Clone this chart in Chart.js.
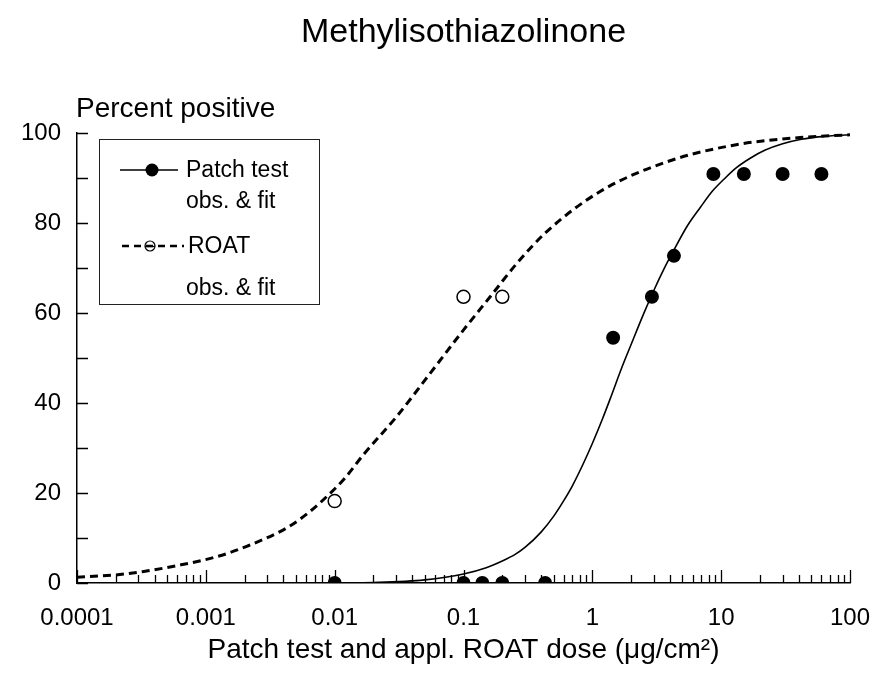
<!DOCTYPE html>
<html>
<head>
<meta charset="utf-8">
<script src="https://cdn.jsdelivr.net/npm/chart.js@4/dist/chart.umd.min.js"></script>
<style>
  html, body { margin: 0; padding: 0; background: #fff; }
  #wrap { width: 874px; height: 679px; }
</style>
</head>
<body>
<div id="wrap"><canvas id="c" width="874" height="679"></canvas></div>
<script>
// ---- Data ----
const chartTitle = "Methylisothiazolinone";
const yAxisTitle = "Percent positive";
const xAxisTitle = "Patch test and appl. ROAT dose (\u03BCg/cm\u00B2)";

const xTickValues = [0.0001, 0.001, 0.01, 0.1, 1, 10, 100];
const xTickLabels = ["0.0001", "0.001", "0.01", "0.1", "1", "10", "100"];
const yTickValues = [0, 20, 40, 60, 80, 100];
const yTickLabels = ["0", "20", "40", "60", "80", "100"];

// Patch test observations (filled circles)
const patchDose = [0.01, 0.1, 0.14, 0.2, 0.43, 1.45, 2.9, 4.3, 8.7, 15, 30, 60];
const patchPct  = [0, 0, 0, 0, 0, 54.5, 63.6, 72.7, 90.9, 90.9, 90.9, 90.9];

// ROAT observations (open circles)
const roatDose = [0.01, 0.1, 0.2];
const roatPct  = [18.2, 63.6, 63.6];

// Patch test fitted curve (solid line)
const patchFitDose = [0.01, 0.02, 0.05, 0.1, 0.15, 0.2, 0.25, 0.3, 0.4, 0.5, 0.6, 0.7, 0.85, 1.0, 1.2, 1.4, 1.7, 2.0, 2.5, 3.0, 3.6, 4.3, 5.5, 6.9, 8.5, 10.4, 13, 16.8, 22, 30, 42, 60, 100];
const patchFitPct  = [0, 0.1, 0.7, 2.0, 3.4, 4.9, 6.3, 7.9, 11.3, 14.8, 18.3, 21.6, 26.5, 31.0, 36.5, 41.5, 48.0, 53.0, 59.8, 65.0, 69.8, 74.0, 79.5, 83.5, 87.0, 89.6, 92.2, 94.4, 96.2, 97.6, 98.6, 99.2, 99.6];

// ROAT fitted curve (dashed line)
const roatFitDose = [0.0001, 0.0002, 0.00032, 0.00058, 0.0012, 0.0021, 0.0044, 0.0065, 0.0089, 0.012, 0.0167, 0.0303, 0.0551, 0.0998, 0.161, 0.259, 0.443, 1.15, 3.79, 12.5, 41, 100];
const roatFitPct  = [1.3, 1.8, 2.5, 3.8, 5.8, 8.2, 12.5, 16.0, 19.5, 23.3, 28.5, 37.0, 46.6, 56.2, 63.6, 71.0, 78.1, 87.0, 93.6, 97.3, 99.0, 99.6];

const legendLabels = [["Patch test", "obs. & fit"], ["ROAT", "obs. & fit"]];

// ---- helpers ----
const pts = (xs, ys) => xs.map((x, i) => ({ x: x, y: ys[i] }));
const FONT = '"Liberation Sans", Arial, Helvetica, sans-serif';

const decorations = {
  id: 'decorations',
  afterDraw(chart) {
    const ctx = chart.ctx;
    const xs = chart.scales.x, ys = chart.scales.y;
    const a = chart.chartArea;
    ctx.save();
    ctx.strokeStyle = '#000';
    ctx.lineWidth = 1.3;
    // inward x ticks: majors at decades, minors at 2..9
    ctx.beginPath();
    for (let d = 0; d < xTickValues.length; d++) {
      const base = xTickValues[d];
      const px = Math.round(xs.getPixelForValue(base)) + 0.5;
      ctx.moveTo(px, a.bottom); ctx.lineTo(px, a.bottom - 13);
      if (d < xTickValues.length - 1) {
        for (let m = 2; m <= 9; m++) {
          const mx = Math.round(xs.getPixelForValue(base * m)) + 0.5;
          ctx.moveTo(mx, a.bottom); ctx.lineTo(mx, a.bottom - 8);
        }
      }
    }
    // inward y ticks every 10
    for (let v = 0; v <= 100; v += 10) {
      const py = Math.round(ys.getPixelForValue(v)) + 0.5;
      ctx.moveTo(a.left, py); ctx.lineTo(a.left + 11, py);
    }
    ctx.stroke();

    // titles
    ctx.fillStyle = '#000';
    ctx.textBaseline = 'alphabetic';
    ctx.textAlign = 'center';
    ctx.font = '34px ' + FONT;
    ctx.fillText(chartTitle, (a.left + a.right) / 2, 42);
    ctx.textAlign = 'left';
    ctx.font = '28px ' + FONT;
    ctx.fillText(yAxisTitle, 76, 117);
    ctx.textAlign = 'center';
    ctx.fillText(xAxisTitle, (a.left + a.right) / 2, 658);

    // legend box
    ctx.lineWidth = 1;
    ctx.strokeStyle = '#222';
    ctx.strokeRect(99.5, 139.5, 220, 165);
    // entry 1: solid line with filled circle
    ctx.strokeStyle = '#000';
    ctx.lineWidth = 1.5;
    ctx.setLineDash([]);
    ctx.beginPath(); ctx.moveTo(120, 170); ctx.lineTo(178, 170); ctx.stroke();
    ctx.beginPath(); ctx.arc(152, 170, 6.5, 0, Math.PI * 2); ctx.fill();
    // entry 2: dashed line with open (unfilled) circle, line visible through it
    ctx.lineWidth = 2.5;
    ctx.setLineDash([7, 5]);
    ctx.beginPath(); ctx.moveTo(122, 246); ctx.lineTo(184, 246); ctx.stroke();
    ctx.setLineDash([]);
    ctx.lineWidth = 1.2;
    ctx.beginPath(); ctx.arc(150, 246, 5, 0, Math.PI * 2); ctx.stroke();
    ctx.lineWidth = 1.3;
    ctx.beginPath(); ctx.moveTo(145, 246.5); ctx.lineTo(155, 246.5); ctx.stroke();
    ctx.fillStyle = '#000';
    ctx.textBaseline = 'middle';
    ctx.textAlign = 'left';
    ctx.font = '23px ' + FONT;
    ctx.fillText(legendLabels[0][0], 186, 171);
    ctx.fillText(legendLabels[0][1], 186, 202);
    ctx.fillText(legendLabels[1][0], 188, 247);
    ctx.fillText(legendLabels[1][1], 186, 289);
    ctx.restore();
  }
};

new Chart(document.getElementById('c'), {
  type: 'scatter',
  data: {
    datasets: [
      {
        label: 'ROAT fit',
        data: pts(roatFitDose, roatFitPct),
        showLine: true,
        borderColor: '#000',
        borderWidth: 3,
        borderDash: [8, 5],
        pointRadius: 0,
        cubicInterpolationMode: 'monotone',
        fill: false,
        order: 4
      },
      {
        label: 'Patch fit',
        data: pts(patchFitDose, patchFitPct),
        showLine: true,
        borderColor: '#000',
        borderWidth: 1.6,
        pointRadius: 0,
        cubicInterpolationMode: 'monotone',
        fill: false,
        order: 3
      },
      {
        label: 'ROAT obs.',
        data: pts(roatDose, roatPct),
        showLine: false,
        pointRadius: 6.5,
        pointBackgroundColor: '#fff',
        pointBorderColor: '#000',
        pointBorderWidth: 1.5,
        order: 2
      },
      {
        label: 'Patch test obs.',
        data: pts(patchDose, patchPct),
        showLine: false,
        pointRadius: 7,
        pointBackgroundColor: '#000',
        pointBorderColor: '#000',
        pointBorderWidth: 0,
        order: 1
      }
    ]
  },
  options: {
    responsive: false,
    animation: false,
    devicePixelRatio: 1,
    layout: { padding: { top: 133, right: 24, left: 0, bottom: 0 } },
    plugins: {
      legend: { display: false },
      title: { display: false },
      tooltip: { enabled: false }
    },
    scales: {
      x: {
        type: 'logarithmic',
        min: 0.0001,
        max: 100,
        afterBuildTicks: s => { s.ticks = xTickValues.map(v => ({ value: v })); },
        afterFit: s => { s.height = 96; s.paddingLeft = 0; s.paddingRight = 0; },
        grid: { display: false, drawTicks: false },
        border: { display: true, color: '#000', width: 1.5 },
        ticks: {
          autoSkip: false,
          maxRotation: 0,
          padding: 21,
          color: '#000',
          font: { family: FONT, size: 24 },
          callback: (v) => { const i = xTickValues.indexOf(v); return i >= 0 ? xTickLabels[i] : ''; }
        }
      },
      y: {
        type: 'linear',
        min: 0,
        max: 100,
        afterBuildTicks: s => { s.ticks = yTickValues.map(v => ({ value: v })); },
        afterFit: s => { s.width = 77; s.paddingTop = 0; s.paddingBottom = 0; },
        grid: { display: false, drawTicks: false },
        border: { display: true, color: '#000', width: 1.5 },
        ticks: {
          padding: 16,
          color: '#000',
          font: { family: FONT, size: 24 },
          callback: (v) => { const i = yTickValues.indexOf(v); return i >= 0 ? yTickLabels[i] : ''; }
        }
      }
    }
  },
  plugins: [decorations]
});
</script>
</body>
</html>
